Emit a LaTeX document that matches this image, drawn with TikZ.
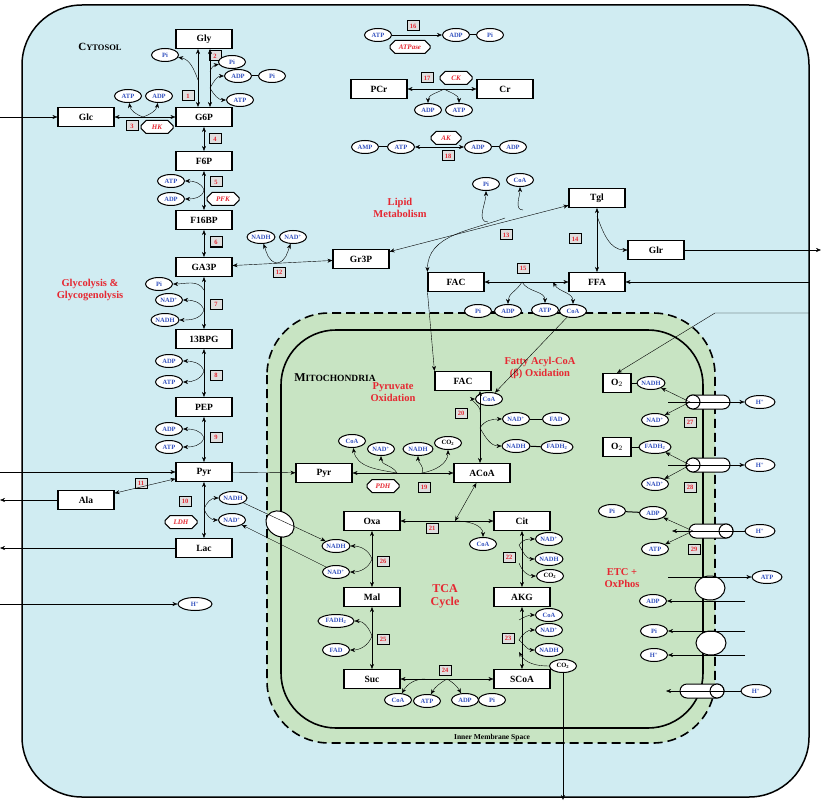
\documentclass[tikz,border=0pt]{standalone}
\usepackage{fontspec}
\setmainfont{Liberation Serif}
\usetikzlibrary{shapes.geometric,shapes.misc,arrows.meta}
\definecolor{cyto}{RGB}{208,236,242}
\definecolor{mito}{RGB}{200,228,195}
\definecolor{metb}{RGB}{50,80,190}
\definecolor{lred}{RGB}{230,40,50}
\newcommand{\nadp}{NAD\textsuperscript{+}}
\begin{document}
\begin{tikzpicture}[x=1pt,y=-1pt,
 box/.style={draw,line width=1.1pt,fill=white,minimum width=56,minimum height=19,inner sep=1,font=\fontsize{9.5}{9.5}\selectfont\bfseries},
 sbox/.style={box,minimum width=28},
 met/.style={ellipse,draw,line width=1pt,fill=white,inner sep=0.3,minimum width=27,minimum height=13,font=\fontsize{6.5}{6.5}\selectfont\bfseries,text=metb},
 metk/.style={met,text=black},
 num/.style={draw,line width=1pt,fill=gray!25,inner sep=1,minimum width=12,minimum height=10,font=\fontsize{6.5}{6.5}\selectfont\bfseries,text=lred},
 enz/.style={chamfered rectangle,chamfered rectangle xsep=2pt,draw,line width=1pt,fill=white,minimum width=32,minimum height=13,inner sep=1,font=\fontsize{7}{7}\selectfont\bfseries\itshape,text=lred},
 ttl/.style={font=\fontsize{10.5}{11.5}\selectfont\bfseries,text=lred,align=center},
 arr/.style={-{Stealth[length=5pt,width=4pt]},thin},
 barr/.style={{Stealth[length=5pt,width=4pt]}-{Stealth[length=5pt,width=4pt]},thin},
 lnk/.style={line width=1pt},
 trans/.style={ellipse,draw,line width=1pt,fill=white,minimum width=30,minimum height=24,inner sep=0}]
\useasboundingbox (0,0) rectangle (821,802);
% compartments
\draw[line width=1.5pt,fill=cyto,rounded corners=60] (22,5) rectangle (809,797);
\draw[line width=1.6pt,dashed,dash pattern=on 9pt off 5pt,fill=mito,rounded corners=62] (267,313) rectangle (715,743);
\draw[line width=1.6pt,rounded corners=55] (281,330) rectangle (703,728);
\node[font=\fontsize{11}{11}\selectfont\bfseries] (cyt) at (100,47) {C\fontsize{8.5}{8.5}\selectfont YTOSOL};
\node[font=\fontsize{12}{12}\selectfont\bfseries] (mtt) at (335,378) {M\fontsize{9.5}{9.5}\selectfont ITOCHONDRIA};
\node[font=\fontsize{7.5}{7.5}\selectfont\bfseries] (ims) at (492,738) {Inner Membrane Space};
\node[ttl] (tg) at (90,290) {Glycolysis \&\\Glycogenolysis};
\node[ttl] (tl) at (400,208) {Lipid\\Metabolism};
\node[ttl] (tp) at (393,392) {Pyruvate\\Oxidation};
\node[ttl] (tf) at (540,368) {Fatty Acyl-CoA\\(β) Oxidation};
\node[ttl,font=\fontsize{12}{13}\selectfont\bfseries] (tt) at (445,596) {TCA\\Cycle};
\node[ttl] (te) at (622,578) {ETC +\\OxPhos};
% boxes
\node[box] (Gly) at (204,39) {Gly};
\node[box] (G6P) at (204,117) {G6P};
\node[box] (Glc) at (86,117) {Glc};
\node[box] (F6P) at (204,161) {F6P};
\node[box] (F16BP) at (204,220) {F16BP};
\node[box] (GA3P) at (204,267) {GA3P};
\node[box] (BPG) at (204,339) {13BPG};
\node[box] (PEP) at (204,407) {PEP};
\node[box] (Pyr) at (204,472) {Pyr};
\node[box] (Ala) at (86,500) {Ala};
\node[box] (Lac) at (204,548) {Lac};
\node[box] (Gr3P) at (361,259) {Gr3P};
\node[box] (Tgl) at (597,198) {Tgl};
\node[box] (Glr) at (656,250) {Glr};
\node[box] (FAC) at (456,282) {FAC};
\node[box] (FFA) at (597,282) {FFA};
\node[box] (PCr) at (379,89) {PCr};
\node[box] (Cr) at (505,89) {Cr};
\node[box] (mFAC) at (463,381) {FAC};
\node[box] (mPyr) at (324,473) {Pyr};
\node[box] (ACoA) at (482,473) {ACoA};
\node[box] (Oxa) at (372,521) {Oxa};
\node[box] (Cit) at (522,521) {Cit};
\node[box] (Mal) at (372,597) {Mal};
\node[box] (AKG) at (522,597) {AKG};
\node[box] (Suc) at (372,679) {Suc};
\node[box] (SCoA) at (522,679) {SCoA};
\node[sbox] (O2a) at (617,383) {O$_2$};
\node[sbox] (O2b) at (617,447) {O$_2$};
% numbers
\foreach \n/\x/\y in {1/188/96,2/215/56,3/132/126,4/215/139,5/216/182,6/216/242,7/216/304,8/216/375,9/216/437,10/185/501,11/141/483,12/279/272,13/506/235,14/575/239,15/523/268,16/413/26,17/427/78,18/448/156,19/424/487,20/461/413,21/432/528,22/509/557,23/508/638,24/445/670,25/383/639,26/383/561,27/690/422,28/690/487,29/694/549}
 {\node[num] (n\n) at (\x,\y) {\n};}
% enzymes
\node[enz] (HK) at (157,127) {HK};
\node[enz] (PFK) at (223,199) {PFK};
\node[enz] (LDH) at (181,522) {LDH};
\node[enz,minimum width=40] (ATPase) at (410,47) {ATPase};
\node[enz] (CK) at (456,78) {CK};
\node[enz,minimum width=30] (AK) at (446,138) {AK};
\node[enz] (PDH) at (383,486) {PDH};
% metabolites glycolysis
\node[met] (gPi1) at (165,55) {Pi};
\node[met] (gPi2) at (232,62) {Pi};
\node[met] (gADP) at (238,76) {ADP};
\node[met] (gPi3) at (272,76) {Pi};
\node[met] (gATP) at (240,100) {ATP};
\node[met] (hATP) at (128,96) {ATP};
\node[met] (hADP) at (159,96) {ADP};
\node[met] (pATP) at (171,181) {ATP};
\node[met] (pADP) at (171,199) {ADP};
\node[met] (rNADH) at (261,237) {NADH};
\node[met] (rNAD) at (293,237) {\nadp};
\node[met] (kPi) at (159,284) {Pi};
\node[met] (kNAD) at (169,300) {\nadp};
\node[met] (kNADH) at (165,320) {NADH};
\node[met] (eADP) at (169,361) {ADP};
\node[met] (eATP) at (169,382) {ATP};
\node[met] (fADP) at (169,429) {ADP};
\node[met] (fATP) at (169,447) {ATP};
\node[met] (lNADH) at (233,498) {NADH};
\node[met] (lNAD) at (232,520) {\nadp};
\node[met,text=metb,minimum width=34] (cH) at (195,604) {H\textsuperscript{+}};
\node[trans,rotate=-35] (tr0) at (280,524) {};
% energy
\node[met] (aATP) at (378,35) {ATP};
\node[met] (aADP) at (456,35) {ADP};
\node[met] (aPi) at (490,35) {Pi};
\node[met] (cADP) at (428,110) {ADP};
\node[met] (cATP) at (459,110) {ATP};
\node[met] (kAMP) at (365,147) {AMP};
\node[met] (kATP) at (401,147) {ATP};
\node[met] (kADP1) at (478,147) {ADP};
\node[met] (kADP2) at (513,147) {ADP};
% lipid
\node[met] (lPi) at (486,184) {Pi};
\node[met] (lCoA) at (520,180) {CoA};
\node[met] (qPi) at (478,311) {Pi};
\node[met] (qADP) at (508,311) {ADP};
\node[met] (qATP) at (545,310) {ATP};
\node[met] (qCoA) at (573,311) {CoA};
% mito
\node[met] (bCoA) at (489,399) {CoA};
\node[met] (bNAD) at (516,419) {\nadp};
\node[met] (bFAD) at (556,419) {FAD};
\node[met] (bNADH) at (516,446) {NADH};
\node[met,minimum width=32] (bFADH) at (557,447) {FADH\textsubscript{2}};
\node[met] (dCoA) at (352,441) {CoA};
\node[met] (dNAD) at (381,449) {\nadp};
\node[met,minimum width=30] (dNADH) at (418,449) {NADH};
\node[metk] (dCO2) at (448,443) {CO\textsubscript{2}};
\node[met] (tCoA) at (483,544) {CoA};
\node[met] (cNAD) at (549,539) {\nadp};
\node[met] (cNADH) at (549,559) {NADH};
\node[metk] (cCO2) at (550,576) {CO\textsubscript{2}};
\node[met] (sCoA) at (549,615) {CoA};
\node[met] (sNAD) at (549,630) {\nadp};
\node[met] (sNADH) at (549,650) {NADH};
\node[metk] (sCO2) at (563,666) {CO\textsubscript{2}};
\node[met] (uCoA) at (398,700) {CoA};
\node[met] (uATP) at (427,701) {ATP};
\node[met] (uADP) at (465,700) {ADP};
\node[met] (uPi) at (492,700) {Pi};
\node[met] (mNADH) at (336,546) {NADH};
\node[met] (mNAD) at (336,572) {\nadp};
\node[met,minimum width=36] (mFADH) at (336,621) {FADH\textsubscript{2}};
\node[met] (mFAD) at (336,650) {FAD};
% ETC
\node[met] (eNADH) at (651,383) {NADH};
\node[met] (eNAD1) at (655,420) {\nadp};
\node[met,minimum width=32] (eFADH) at (655,447) {FADH\textsubscript{2}};
\node[met] (eNAD2) at (655,484) {\nadp};
\node[met] (ePi) at (612,511) {Pi};
\node[met] (eADPx) at (653,513) {ADP};
\node[met] (eATPx) at (655,549) {ATP};
\node[met] (eADP2) at (653,601) {ADP};
\node[met] (ePi2) at (654,631) {Pi};
\node[met] (eH) at (654,655) {H\textsuperscript{+}};
\node[met,minimum width=30] (oH1) at (760,402) {H\textsuperscript{+}};
\node[met,minimum width=30] (oH2) at (760,465) {H\textsuperscript{+}};
\node[met,minimum width=30] (oH3) at (760,531) {H\textsuperscript{+}};
\node[met,minimum width=30] (oATP) at (767,577) {ATP};
\node[met,minimum width=30] (oH4) at (756,691) {H\textsuperscript{+}};
% cylinders
\foreach \i/\a/\b/\y/\e in {1/686/730/402/0,2/686/730/465/0,3/689/733/531/1,4/680/724/691/1}{
 \draw[line width=1pt,fill=white,rounded corners=7] (\a,\y-7) rectangle (\b,\y+7);
 \ifnum\e=0 \draw[line width=1pt,fill=white] (\a+7,\y) ellipse (7 and 7);
 \else \draw[line width=1pt,fill=white] (\b-7,\y) ellipse (7 and 7); \fi
 \coordinate (cy\i) at (\a+4,\y);}
\node[trans] (tr1) at (710,588) {};
\node[trans] (tr2) at (711,643) {};
% ---- connectors
\draw[barr] (198,49) -- (198,107);
\draw[barr] (210,49) -- (210,107);
\coordinate (b1) at (198,80); \coordinate (b2) at (210,72); \coordinate (b3) at (210,88);
\draw[arr] (b1) to[out=110,in=-10] (gPi1);
\draw[arr] (b2) to[out=80,in=190] (gPi2);
\draw[arr] (b3) to[out=60,in=180] (gADP);
\draw[arr] (b3) to[out=-60,in=180] (gATP);
\draw[lnk] (gADP) -- (gPi3);
\draw[barr] (Glc) -- (G6P);
\coordinate (b4) at (143,117);
\draw[arr] (b4) to[out=160,in=-80] (hATP);
\draw[arr] (b4) to[out=20,in=-100] (hADP);
\draw[barr] (G6P) -- (F6P);
\draw[barr] (F6P) -- (F16BP);
\coordinate (b5) at (204,190);
\draw[arr] (b5) to[out=110,in=0] (pATP);
\draw[arr] (b5) to[out=-100,in=0] (pADP);
\draw[barr] (F16BP) -- (GA3P);
\draw[barr] (GA3P) -- (Gr3P);
\coordinate (b6) at (277,263);
\draw[arr] (b6) to[out=170,in=-70] (rNADH);
\draw[arr] (b6) to[out=10,in=-110] (rNAD);
\draw[barr] (GA3P) -- (BPG);
\coordinate (b7) at (204,290); \coordinate (b8) at (204,310);
\draw[arr] (b7) to[out=120,in=0] (kPi);
\draw[arr] (b8) to[out=110,in=0] (kNAD);
\draw[arr] (b8) to[out=-110,in=0] (kNADH);
\draw[barr] (BPG) -- (PEP);
\coordinate (b9) at (204,371);
\draw[arr] (b9) to[out=110,in=0] (eADP);
\draw[arr] (b9) to[out=-110,in=0] (eATP);
\draw[barr] (PEP) -- (Pyr);
\coordinate (b10) at (204,438);
\draw[arr] (b10) to[out=110,in=0] (fADP);
\draw[arr] (b10) to[out=-110,in=0] (fATP);
\draw[barr] (Pyr) -- (Ala);
\draw[barr] (Pyr) -- (Lac);
\coordinate (b11) at (204,509);
\draw[arr] (b11) to[out=70,in=180] (lNADH);
\draw[arr] (b11) to[out=-70,in=180] (lNAD);
\draw[arr] (lNADH) -- (mNADH);
\draw[arr] (mNAD) -- (lNAD);
\draw[arr] (Pyr) -- (mPyr);
% external
\coordinate (xGlc) at (0,117); \coordinate (xPyr) at (0,472); \coordinate (xAla) at (0,500);
\coordinate (xLac) at (0,548); \coordinate (xH) at (0,604); \coordinate (xGlr) at (821,250);
\coordinate (xFFA) at (809,282); \coordinate (xO2) at (809,313); \coordinate (kO2) at (715,313);
\coordinate (xCO2) at (563,800);
\draw[arr] (xGlc) -- (Glc);
\draw[arr] (xPyr) -- (Pyr);
\draw[arr] (Ala) -- (xAla);
\draw[arr] (Lac) -- (xLac);
\draw[arr] (xH) -- (cH);
\draw[arr] (Glr) -- (xGlr);
\draw[arr] (xFFA) -- (FFA);
\draw[arr] (xO2) -- (kO2) -- (O2a.north);
% energy
\draw[arr] (aATP) -- (aADP); \draw[lnk] (aADP) -- (aPi);
\draw[barr] (PCr) -- (Cr);
\coordinate (b12) at (444,89);
\draw[arr] (b12) to[out=-150,in=90] (cADP);
\draw[arr] (b12) to[out=-30,in=90] (cATP);
\draw[lnk] (kAMP) -- (kATP); \draw[barr] (kATP) -- (kADP1); \draw[lnk] (kADP1) -- (kADP2);
% lipid
\draw[barr] (Gr3P) -- (Tgl);
\coordinate (b13) at (488,222); \coordinate (b14) at (523,210); \coordinate (b15) at (505,218);
\draw[arr] (b13) to[out=180,in=-90] (lPi);
\draw[arr] (b14) to[out=180,in=-90] (lCoA);
\draw[arr] (b15) to[out=-160,in=90] (FAC.north west);
\draw[barr] (Tgl) -- (FFA);
\coordinate (b15b) at (597,216);
\draw[arr] (b15b) to[out=-70,in=180] (Glr);
\draw[barr] (FAC) -- (FFA);
\coordinate (b16) at (522,282); \coordinate (b16b) at (553,282);
\draw[arr] (b16) to[out=-120,in=90] (qADP);
\draw[arr] (b16) to[out=-60,in=90] (qATP);
\draw[barr] (b16b) to[out=-60,in=90] (qCoA);
\draw[lnk] (qPi) -- (qADP);
\draw[arr] (FAC.south west) -- (mFAC.north west);
\draw[arr] (qCoA) -- (bCoA);
% mito
\coordinate (q1) at (480,391); \coordinate (q2) at (480,463);
\draw[barr] (q1) -- (q2);
\coordinate (b17) at (480,412); \coordinate (b18) at (480,428);
\draw[arr] (b17) to[out=70,in=180] (bCoA);
\draw[arr] (b18) to[out=60,in=180] (bNAD);
\draw[arr] (b18) to[out=-60,in=180] (bNADH);
\draw[lnk] (bNAD) -- (bFAD); \draw[lnk] (bNADH) -- (bFADH);
\draw[barr] (mPyr) -- (ACoA);
\coordinate (b19) at (397,473); \coordinate (b20) at (422,473);
\draw[arr] (b19) to[out=170,in=-80] (dCoA);
\draw[arr] (b19) to[out=120,in=-90] (dNAD);
\draw[arr] (b20) to[out=60,in=-90] (dNADH);
\draw[arr] (b20) to[out=10,in=-90] (dCO2);
\draw[barr] (Oxa) -- (Cit);
\coordinate (b21) at (455,521);
\draw[barr] (b21) -- (ACoA);
\draw[arr] (b21) to[out=0,in=90] (tCoA);
\draw[barr] (Cit) -- (AKG);
\coordinate (b22) at (519,545); \coordinate (b23) at (519,563);
\draw[arr] (b22) to[out=60,in=180] (cNAD);
\draw[arr] (b22) to[out=-60,in=180] (cNADH);
\draw[arr] (b23) to[out=-70,in=180] (cCO2);
\draw[barr] (AKG) -- (SCoA);
\coordinate (b24) at (519,620); \coordinate (b25) at (519,640); \coordinate (b25b) at (519,652);
\draw[arr] (b24) to[out=30,in=180] (sCoA);
\draw[arr] (b25) to[out=60,in=180] (sNAD);
\draw[arr] (b25) to[out=-40,in=180] (sNADH);
\draw[arr] (sCO2) to[out=180,in=-60] (b25b);
\draw[arr] (sCO2) -- (xCO2);
\draw[barr] (Suc) -- (SCoA);
\coordinate (b26) at (425,679); \coordinate (b27) at (447,679);
\draw[arr] (b26) to[out=180,in=60] (uCoA);
\draw[arr] (b27) to[out=-150,in=60] (uATP);
\draw[arr] (b27) to[out=-30,in=120] (uADP);
\draw[lnk] (uADP) -- (uPi);
\draw[barr] (Oxa) -- (Mal);
\coordinate (b28) at (372,559);
\draw[arr] (b28) to[out=110,in=0] (mNADH);
\draw[arr] (b28) to[out=-110,in=0] (mNAD);
\draw[barr] (Mal) -- (Suc);
\coordinate (b29) at (372,636);
\draw[arr] (b29) to[out=110,in=0] (mFADH);
\draw[arr] (b29) to[out=-110,in=0] (mFAD);
% ETC
\draw[lnk] (O2a) -- (eNADH); \draw[lnk] (O2b) -- (eFADH); \draw[lnk] (ePi) -- (eADPx);
\draw[arr] (cy1) -- (eNADH); \draw[arr] (cy1) -- (eNAD1);
\draw[arr] (cy2) -- (eFADH); \draw[arr] (cy2) -- (eNAD2);
\draw[arr] (cy3) -- (eADPx); \draw[arr] (cy3) -- (eATPx);
\coordinate (h1) at (668,402); \coordinate (h2) at (668,465); \coordinate (h3) at (672,531);
\coordinate (h4) at (666,691); \coordinate (ha) at (668,577); \coordinate (hb) at (745,601);
\coordinate (hc) at (745,631); \coordinate (hd) at (745,655);
\draw[arr] (h1) -- (oH1); \draw[arr] (h2) -- (oH2);
\draw[arr] (oH3) -- (h3);
\draw[arr] (oH4) -- (h4);
\draw[arr] (ha) -- (oATP);
\draw[arr] (hb) -- (eADP2); \draw[arr] (hc) -- (ePi2); \draw[arr] (hd) -- (eH);
\end{tikzpicture}
\end{document}
